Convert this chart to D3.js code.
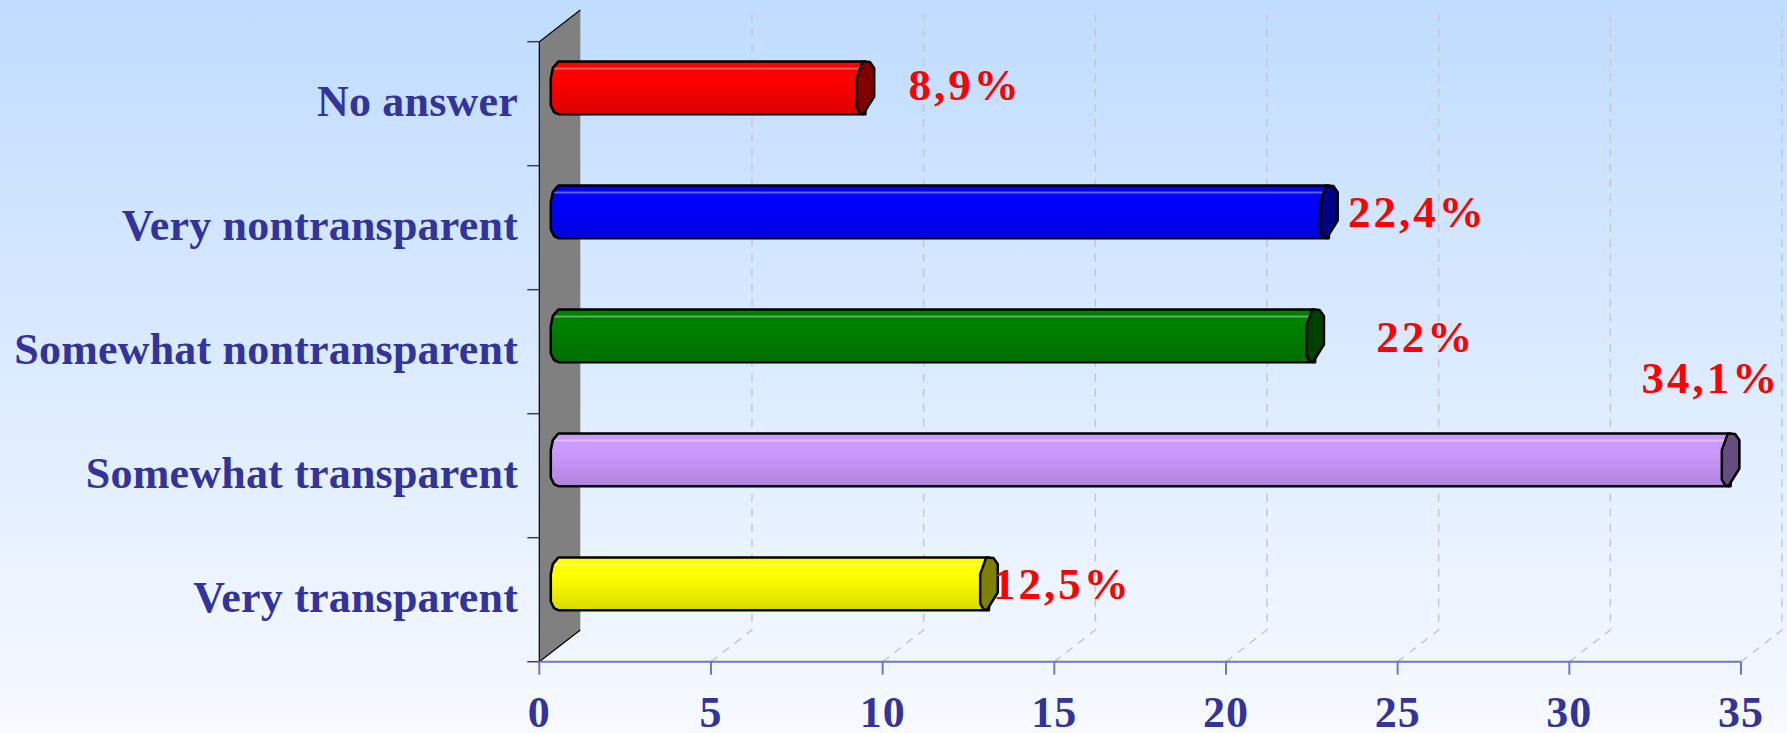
<!DOCTYPE html>
<html lang="en">
<head>
<meta charset="UTF-8">
<title>Transparency</title>
<style>
  body { margin: 0; overflow: hidden; }
  svg { display: block; }
  text { font-family: "Liberation Serif", "Times New Roman", serif; font-weight: bold; }
</style>
</head>
<body>
<div id="chart"></div>
<script src="https://d3js.org/d3.v7.min.js"></script>
<script>
// categories from top to bottom
const categories = ["No answer", "Very nontransparent", "Somewhat nontransparent", "Somewhat transparent", "Very transparent"];
const values = [8.9, 22.4, 22, 34.1, 12.5];
const barColors = ["#ff0000", "#0000ff", "#008000", "#cc99ff", "#ffff00"];
const xTicks = [0, 5, 10, 15, 20, 25, 30, 35];

// label nudges relative to the bar end (Excel moved them by hand)
const labelNudge = [[43, 12], [19, 15], [61, 16], [-89, -67], [4, 15]];

const width = 1787, height = 733;
const plotLeft = 539.3, plotRight = 1741, plotTop = 41.7, plotBottom = 661.7;
const depthX = 41, depthY = -31.7;   // 3d depth offset

const svg = d3.select("#chart").append("svg")
  .attr("width", width).attr("height", height);

const defs = svg.append("defs");
const bg = defs.append("linearGradient").attr("id", "bg")
  .attr("x1", 0).attr("y1", 0).attr("x2", 0).attr("y2", 1);
bg.append("stop").attr("offset", 0).attr("stop-color", "#c0dcff");
bg.append("stop").attr("offset", 1).attr("stop-color", "#f7faff");
svg.append("rect").attr("width", width).attr("height", height).attr("fill", "url(#bg)");

const x = d3.scaleLinear().domain([0, 35]).range([plotLeft, plotRight]);
const y = d3.scaleBand().domain(categories).range([plotTop, plotBottom]);

// grid: floor diagonals + back wall verticals
const grid = svg.append("g")
  .attr("stroke", "#c8c8c8").attr("stroke-width", 1.5)
  .attr("stroke-dasharray", "8,7").attr("fill", "none");
xTicks.filter(t => t > 0).forEach(t => {
  grid.append("path")
    .attr("d", `M${x(t)},${plotBottom} L${x(t) + depthX},${plotBottom + depthY} L${x(t) + depthX},${plotTop + depthY}`);
});

// side wall
svg.append("path")
  .attr("d", `M${plotLeft},${plotTop} L${plotLeft + depthX},${plotTop + depthY} L${plotLeft + depthX},${plotBottom + depthY} L${plotLeft},${plotBottom} Z`)
  .attr("fill", "#808080");
svg.append("path")
  .attr("d", `M${plotLeft + depthX},${plotTop + depthY} L${plotLeft},${plotTop} L${plotLeft},${plotBottom} L${plotLeft + depthX},${plotBottom + depthY}`)
  .attr("fill", "none").attr("stroke", "#000").attr("stroke-width", 1.2);

// category ticks
svg.append("g").selectAll("line")
  .data(d3.range(categories.length + 1))
  .join("line")
  .attr("x1", plotLeft - 12).attr("x2", plotLeft)
  .attr("y1", i => plotTop + i * y.step()).attr("y2", i => plotTop + i * y.step())
  .attr("stroke", "#404040").attr("stroke-width", 1.5);

// value axis
const axisColor = "#7474c4";
svg.append("line")
  .attr("x1", plotLeft).attr("x2", plotRight).attr("y1", plotBottom).attr("y2", plotBottom)
  .attr("stroke", axisColor).attr("stroke-width", 2);
svg.append("g").selectAll("line").data(xTicks).join("line")
  .attr("x1", d => x(d)).attr("x2", d => x(d))
  .attr("y1", plotBottom).attr("y2", plotBottom + 13)
  .attr("stroke", axisColor).attr("stroke-width", 2);
svg.append("g").selectAll("text").data(xTicks).join("text")
  .attr("x", d => x(d)).attr("y", 727)
  .attr("text-anchor", "middle")
  .style("font-size", "44px").style("letter-spacing", "1px")
  .attr("fill", "#333399")
  .text(d => d);

// category labels
svg.append("g").selectAll("text").data(categories).join("text")
  .attr("x", 518).attr("y", d => y(d) + y.bandwidth() / 2 + 12)
  .attr("text-anchor", "end")
  .style("font-size", "44px").style("letter-spacing", "0.2px")
  .attr("fill", "#333399")
  .text(d => d);

// bars
const hh = y.bandwidth() * 0.212;   // half bar height
const hw = 8.8;                     // half cap width
const capPts = [[-0.32, -1], [0.51, -0.98], [1, -0.75], [1, 0.33], [-0.25, 1], [-0.62, 0.96], [-1, 0.75], [-1, -0.37]];

barColors.forEach((c, i) => {
  const g = defs.append("linearGradient").attr("id", "bar" + i)
    .attr("x1", 0).attr("y1", 0).attr("x2", 0).attr("y2", 1);
  const base = d3.color(c);
  const light = d3.interpolateRgb(c, "#ffffff")(0.4);
  const dark = d3.rgb(base.r * 0.86, base.g * 0.86, base.b * 0.86);
  [[0, c], [0.1, c], [0.13, light], [0.17, c], [0.35, c], [1, dark]].forEach(s =>
    g.append("stop").attr("offset", s[0]).attr("stop-color", s[1]));
});

const bars = svg.append("g").selectAll("g")
  .data(categories.map((c, i) => ({ cat: c, value: values[i], i })))
  .join("g");

bars.each(function (d) {
  const g = d3.select(this);
  const cy = y(d.cat) + y.bandwidth() / 2 + depthY / 2;
  const x0 = x(0) + depthX / 2, x1 = x(d.value) + depthX / 2;
  const body = `M${x0 - 1.5},${cy - hh} L${x1},${cy - hh} L${x1},${cy + hh} L${x0 - 1.5},${cy + hh}
    L${x0 - 5.8},${cy + hh * 0.92} L${x0 - 9},${cy + hh * 0.67} L${x0 - 9},${cy - hh * 0.37}
    L${x0 - 7},${cy - hh * 0.75} Z`;
  g.append("path").attr("d", body)
    .attr("fill", `url(#bar${d.i})`).attr("stroke", "#000").attr("stroke-width", 2.5)
    .attr("stroke-linejoin", "round");
  const base = d3.color(barColors[d.i]);
  g.append("polygon")
    .attr("points", capPts.map(p => `${x1 + p[0] * hw},${cy + p[1] * hh}`).join(" "))
    .attr("fill", d3.rgb(base.r * 0.5, base.g * 0.5, base.b * 0.5))
    .attr("stroke", "#000").attr("stroke-width", 2.5).attr("stroke-linejoin", "round");
  g.append("text")
    .attr("x", x1 + labelNudge[d.i][0]).attr("y", cy + labelNudge[d.i][1])
    .style("font-size", "45px").style("letter-spacing", "3px")
    .attr("fill", "#ff0000")
    .text(String(d.value).replace(".", ",") + "%");
});
</script>
</body>
</html>
